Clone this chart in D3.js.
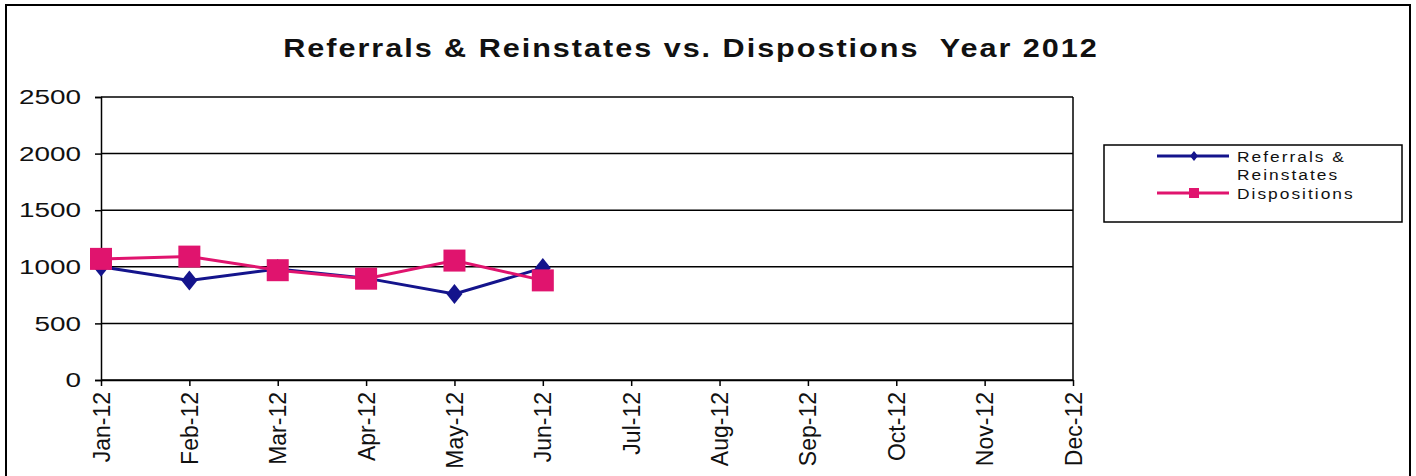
<!DOCTYPE html>
<html><head><meta charset="utf-8">
<script src="https://cdn.jsdelivr.net/npm/d3@7"></script>
<style>body{margin:0;background:#fff;} text{font-family:"Liberation Sans",Arial,sans-serif;}</style>
</head><body>
<svg id="chart" width="1416" height="476"></svg>
<script>
const months = ["Jan-12","Feb-12","Mar-12","Apr-12","May-12","Jun-12","Jul-12","Aug-12","Sep-12","Oct-12","Nov-12","Dec-12"];
const referrals = [1000, 880, 980, 900, 760, 990];
const dispositions = [1070, 1090, 970, 895, 1055, 880];
const yTicks = [0, 500, 1000, 1500, 2000, 2500];
const seriesNames = ["Referrals & Reinstates", "Dispositions"];

(function(){
const svg = d3.select("#chart");
const pL = 101, pR = 1073, pT = 97, pB = 380;
const x = d3.scalePoint().domain(months).range([pL, pR]);
const y = d3.scaleLinear().domain([0, 2500]).range([pB, pT]);

// outer frame
svg.append("rect").attr("x", 6).attr("y", 5).attr("width", 1404).attr("height", 500)
  .attr("fill", "none").attr("stroke", "#000").attr("stroke-width", 2);

svg.append("text").attr("x", 0).attr("y", 0).attr("text-anchor", "middle")
  .attr("transform", "translate(691,57) scale(1.2,1)")
  .attr("font-size", 25.5).attr("font-weight", "bold").attr("letter-spacing", 1.65)
  .style("white-space", "pre").attr("fill", "#111")
  .text("Referrals & Reinstates vs. Dispostions  Year 2012");

// gridlines
svg.append("g").selectAll("line").data(yTicks).join("line")
  .attr("x1", pL).attr("x2", pR).attr("y1", d => y(d)).attr("y2", d => y(d))
  .attr("stroke", "#000").attr("stroke-width", 1.5);
svg.append("line").attr("x1", pR).attr("x2", pR).attr("y1", pT).attr("y2", pB)
  .attr("stroke", "#000").attr("stroke-width", 1.5);

// y axis
const yAxis = svg.append("g").attr("transform", `translate(${pL},0)`)
  .call(d3.axisLeft(y).tickValues(yTicks).tickFormat(d3.format("d")).tickSize(6));
yAxis.select(".domain").attr("stroke-width", 1.5);
yAxis.selectAll("line").attr("stroke-width", 1.5);
yAxis.selectAll("text").attr("font-size", 21).attr("fill", "#111")
  .attr("font-family", "Liberation Sans, Arial, sans-serif")
  .attr("x", 0).attr("transform", "translate(-20,0) scale(1.33,1)");

// x axis
const xAxis = svg.append("g").attr("transform", `translate(0,${pB})`)
  .call(d3.axisBottom(x).tickSize(6).tickSizeOuter(0));
xAxis.select(".domain").attr("stroke-width", 1.5);
xAxis.selectAll("line").attr("stroke-width", 1.5);
xAxis.selectAll("text").attr("font-size", 23).attr("fill", "#111")
  .attr("font-family", "Liberation Sans, Arial, sans-serif")
  .attr("transform", "rotate(-90)").attr("text-anchor", "end")
  .attr("x", -12).attr("y", 0).attr("dy", "0.35em");

const blue = "#14148c", pink = "#e0146e";
const line = d3.line().x((d, i) => x(months[i])).y(d => y(d));

svg.append("path").datum(referrals).attr("d", line).attr("fill", "none").attr("stroke", blue).attr("stroke-width", 3);
svg.append("path").datum(dispositions).attr("d", line).attr("fill", "none").attr("stroke", pink).attr("stroke-width", 3);

const dia = (w, h) => `M0,${-h}L${w},0L0,${h}L${-w},0Z`;
svg.append("g").selectAll("path").data(referrals).join("path")
  .attr("d", dia(8, 10)).attr("fill", blue)
  .attr("transform", (d, i) => `translate(${x(months[i])},${y(d)})`);
svg.append("g").selectAll("rect").data(dispositions).join("rect")
  .attr("x", (d, i) => x(months[i]) - 11).attr("y", d => y(d) - 11)
  .attr("width", 22).attr("height", 22).attr("fill", pink);

// legend
svg.append("rect").attr("x", 1104).attr("y", 145).attr("width", 298).attr("height", 77)
  .attr("fill", "#fff").attr("stroke", "#000").attr("stroke-width", 1.5);
const lg = svg.append("g");
lg.append("line").attr("x1", 1157).attr("x2", 1229).attr("y1", 156).attr("y2", 156).attr("stroke", blue).attr("stroke-width", 3);
lg.append("path").attr("d", dia(4, 5)).attr("fill", blue).attr("transform", "translate(1194,156)");
lg.append("line").attr("x1", 1157).attr("x2", 1229).attr("y1", 193).attr("y2", 193).attr("stroke", pink).attr("stroke-width", 3);
lg.append("rect").attr("x", 1189).attr("y", 188).attr("width", 10).attr("height", 10).attr("fill", pink);
const lt = (t, yy) => lg.append("text").attr("x", 1237).attr("y", yy).attr("font-size", 15.5)
  .attr("letter-spacing", 1.8).attr("fill", "#111")
  .attr("transform", `translate(${1237*-0.12},0) scale(1.12,1)`).text(t);
lt("Referrals &", 162);
lt("Reinstates", 180);
lt(seriesNames[1], 199);
})();
</script>
</body></html>
